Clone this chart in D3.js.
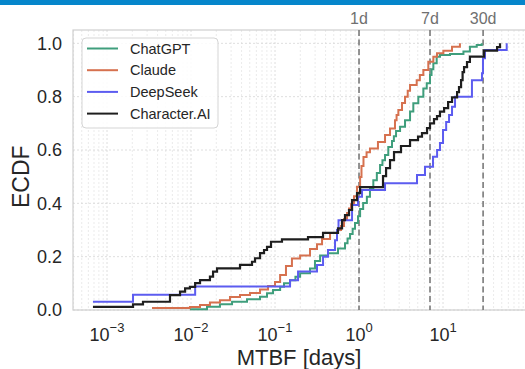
<!DOCTYPE html>
<html>
<head>
<meta charset="utf-8">
<script src="https://cdn.jsdelivr.net/npm/d3@7"></script>
<style>
  body { margin: 0; background: #fff; }
  svg { display: block; font-family: "Liberation Sans", Arial, sans-serif; }
</style>
</head>
<body>
<svg id="chart" width="525" height="369"></svg>
<script>
// ECDF breakpoints: [MTBF in days, cumulative fraction]
var chatgpt = [
  [0.0097, 0.003], [0.0155, 0.012], [0.0221, 0.022], [0.0308, 0.031], [0.0464, 0.040],
  [0.0663, 0.050], [0.0803, 0.063], [0.0947, 0.075], [0.115, 0.087], [0.128, 0.100],
  [0.151, 0.112], [0.175, 0.125], [0.199, 0.138], [0.261, 0.156], [0.299, 0.184], [0.344, 0.204],
  [0.428, 0.213], [0.562, 0.231], [0.681, 0.250], [0.73, 0.268], [0.782, 0.285], [0.84, 0.305], [0.896, 0.326],
  [0.973, 0.352], [1.03, 0.379], [1.12, 0.401], [1.24, 0.425], [1.35, 0.456],
  [1.48, 0.487], [1.63, 0.514], [1.78, 0.544], [1.9, 0.562], [2.04, 0.581], [2.23, 0.611],
  [2.47, 0.634], [2.6, 0.652], [2.76, 0.671], [3.08, 0.687], [3.53, 0.712], [4.05, 0.744],
  [4.43, 0.775], [5.08, 0.800], [5.83, 0.831], [6.40, 0.850], [7.0, 0.881],
  [7.3, 0.903], [7.67, 0.925], [8.41, 0.950], [9.2, 0.956], [12.1, 0.960], [17.5, 0.969],
  [20.9, 0.987], [25.2, 0.994], [28.9, 1.0]
];
var claude = [
  [0.00343, 0.0075], [0.0097, 0.011], [0.0128, 0.019], [0.0168, 0.028], [0.0221, 0.037],
  [0.0291, 0.049], [0.0383, 0.056], [0.0504, 0.064], [0.0663, 0.077], [0.0826, 0.090],
  [0.100, 0.105], [0.115, 0.131], [0.135, 0.165], [0.159, 0.193], [0.199, 0.204],
  [0.261, 0.229], [0.316, 0.247], [0.363, 0.266], [0.452, 0.289], [0.547, 0.300],
  [0.611, 0.315], [0.663, 0.341], [0.720, 0.364], [0.76, 0.381], [0.803, 0.397], [0.871, 0.427],
  [0.947, 0.462], [1.03, 0.499], [1.07, 0.540], [1.13, 0.574], [1.23, 0.592], [1.35, 0.606],
  [1.68, 0.630], [2.04, 0.656], [2.34, 0.681], [2.68, 0.712], [2.8, 0.731], [2.94, 0.750],
  [3.25, 0.776], [3.53, 0.800], [3.8, 0.822], [4.05, 0.844], [4.86, 0.862], [5.3, 0.881], [5.83, 0.900],
  [6.68, 0.931], [7.67, 0.950], [8.48, 0.963], [10.1, 0.972], [12.8, 0.987],
  [15.9, 1.0]
];
var deepseek = [
  [0.00068, 0.031], [0.00204, 0.057], [0.0112, 0.088], [0.151, 0.112], [0.188, 0.144],
  [0.316, 0.169], [0.373, 0.200], [0.427, 0.225], [0.518, 0.262], [0.547, 0.300],
  [0.570, 0.337], [0.826, 0.394], [0.973, 0.425], [1.086, 0.450], [2.04, 0.475],
  [4.90, 0.506], [6.1, 0.537], [7.6, 0.575], [8.5, 0.600], [9.2, 0.626],
  [10.0, 0.675], [10.9, 0.705], [11.8, 0.731], [12.8, 0.762], [13.9, 0.800],
  [22.1, 0.862], [29.1, 0.888], [29.9, 0.944], [31.6, 0.975], [57.3, 1.0]
];
var characterai = [
  [0.00068, 0.012], [0.00204, 0.021], [0.00268, 0.031], [0.00562, 0.056], [0.0074, 0.069],
  [0.0085, 0.081], [0.0097, 0.087], [0.0112, 0.101], [0.0128, 0.112], [0.0168, 0.125],
  [0.0183, 0.144], [0.0204, 0.156], [0.0383, 0.169], [0.0532, 0.181], [0.0578, 0.194],
  [0.0663, 0.213], [0.0740, 0.225], [0.0803, 0.237], [0.0896, 0.256], [0.121, 0.265],
  [0.247, 0.273], [0.373, 0.289], [0.562, 0.306], [0.628, 0.337], [0.681, 0.356],
  [0.760, 0.375], [0.826, 0.412], [0.947, 0.438], [1.03, 0.461], [1.93, 0.502],
  [2.10, 0.532], [2.34, 0.562], [2.61, 0.592], [3.16, 0.615], [4.05, 0.637],
  [5.04, 0.650], [5.62, 0.663], [6.45, 0.682], [7.0, 0.700], [7.81, 0.716],
  [8.48, 0.727], [9.2, 0.744], [10.3, 0.757], [11.5, 0.780], [12.8, 0.797],
  [14.7, 0.817], [15.5, 0.836], [16.4, 0.862], [17.1, 0.892], [17.8, 0.911],
  [19.3, 0.930], [20.9, 0.950], [30.8, 0.973], [44.0, 0.986], [47.7, 1.0]
];

var seriesNames = ["ChatGPT", "Claude", "DeepSeek", "Character.AI"];
var seriesData = [chatgpt, claude, deepseek, characterai];
var seriesColors = ["#3f9e7c", "#d6714f", "#5c5cf0", "#1e1e1e"];

var markerDays = [1, 7, 30];
var markerLabels = ["1d", "7d", "30d"];
var yTicks = [0, 0.2, 0.4, 0.6, 0.8, 1.0];
var xDecades = [-3, -2, -1, 0, 1];

var svg = d3.select("#chart");
var plotLeft = 73, plotTop = 30, plotBottom = 310;

var x = d3.scaleLog().domain([Math.pow(10, -3.405), Math.pow(10, 2.25)]).range([plotLeft, plotLeft + 84 * 5.655]);
var y = d3.scaleLinear().domain([0, 1.05]).range([plotBottom, plotTop]);
var plotRight = x.range()[1];

// banner strip on top
svg.append("rect").attr("x", 0).attr("y", 0).attr("width", 525).attr("height", 5).attr("fill", "#0686cb");

var grid = svg.append("g");
var minor = [];
for (var e = -4; e <= 2; e++) {
  for (var k = 1; k <= 9; k++) {
    var v = k * Math.pow(10, e);
    if (v >= x.domain()[0] && v <= x.domain()[1]) minor.push({v: v, major: k === 1});
  }
}
grid.selectAll("line.vx").data(minor).enter().append("line")
  .attr("x1", function (d) { return x(d.v); })
  .attr("x2", function (d) { return x(d.v); })
  .attr("y1", plotTop).attr("y2", plotBottom)
  .attr("stroke", function (d) { return d.major ? "#d6d6d6" : "#e6e6e6"; })
  .attr("stroke-width", 0.8)
  .attr("stroke-dasharray", "2,2");
grid.selectAll("line.hy").data(yTicks).enter().append("line")
  .attr("x1", plotLeft).attr("x2", plotRight)
  .attr("y1", function (d) { return y(d); })
  .attr("y2", function (d) { return y(d); })
  .attr("stroke", "#d6d6d6")
  .attr("stroke-width", 0.8)
  .attr("stroke-dasharray", "2,2");

// frame
svg.append("rect").attr("x", plotLeft).attr("y", plotTop)
  .attr("width", plotRight - plotLeft).attr("height", plotBottom - plotTop)
  .attr("fill", "none").attr("stroke", "#cfcfcf").attr("stroke-width", 1.2);

// y axis
var yAxis = svg.append("g").attr("transform", "translate(" + plotLeft + ",0)")
  .call(d3.axisLeft(y).tickValues(yTicks).tickFormat(d3.format(".1f")).tickSize(0).tickPadding(11));
yAxis.select(".domain").remove();
yAxis.selectAll("text").attr("font-size", 18).attr("fill", "#262626")
  .attr("font-family", "Liberation Sans, Arial, sans-serif");

// x tick labels with superscript exponents
var xl = svg.append("g");
xDecades.forEach(function (p) {
  var t = xl.append("text").attr("x", x(Math.pow(10, p))).attr("y", 340.5)
    .attr("text-anchor", "middle").attr("font-size", 18).attr("fill", "#262626");
  t.append("tspan").text("10");
  t.append("tspan").attr("dy", -9).attr("font-size", 13).text(p < 0 ? "\u2212" + (-p) : String(p));
});

svg.append("text").attr("x", x(1) - 60).attr("y", 364.5).attr("text-anchor", "middle")
  .attr("font-size", 22).attr("fill", "#262626").text("MTBF [days]");
svg.append("text").attr("transform", "translate(29," + y(0.5) + ") rotate(-90)")
  .attr("text-anchor", "middle").attr("font-size", 23).attr("fill", "#262626").text("ECDF");

// reference lines
svg.selectAll("line.mark").data(markerDays).enter().append("line")
  .attr("x1", function (d) { return x(d); })
  .attr("x2", function (d) { return x(d); })
  .attr("y1", plotTop).attr("y2", plotBottom)
  .attr("stroke", "#7a7a7a").attr("stroke-width", 1.6).attr("stroke-dasharray", "6,3.5");
svg.selectAll("text.mark").data(markerDays).enter().append("text")
  .attr("x", function (d) { return x(d); })
  .attr("y", 24).attr("text-anchor", "middle")
  .attr("font-size", 16).attr("fill", "#707070")
  .text(function (d, i) { return markerLabels[i]; });

// ECDF step lines
var line = d3.line()
  .x(function (d) { return x(d[0]); })
  .y(function (d) { return y(d[1]); })
  .curve(d3.curveStepAfter);
seriesData.forEach(function (data, i) {
  svg.append("path").datum(data)
    .attr("fill", "none")
    .attr("stroke", seriesColors[i])
    .attr("stroke-width", i === 3 ? 2.2 : 2)
    .attr("d", line);
});

// legend
var lg = svg.append("g").attr("transform", "translate(82,38)");
lg.append("rect").attr("width", 136).attr("height", 90).attr("rx", 4)
  .attr("fill", "white").attr("fill-opacity", 0.85)
  .attr("stroke", "#d5d5d5").attr("stroke-width", 1);
seriesNames.forEach(function (name, i) {
  var yy = 10.5 + i * 21.7;
  lg.append("line").attr("x1", 5).attr("x2", 36).attr("y1", yy).attr("y2", yy)
    .attr("stroke", seriesColors[i]).attr("stroke-width", 2);
  lg.append("text").attr("x", 48).attr("y", yy + 5).attr("font-size", 14.5)
    .attr("fill", "#262626").text(name);
});
</script>
</body>
</html>
